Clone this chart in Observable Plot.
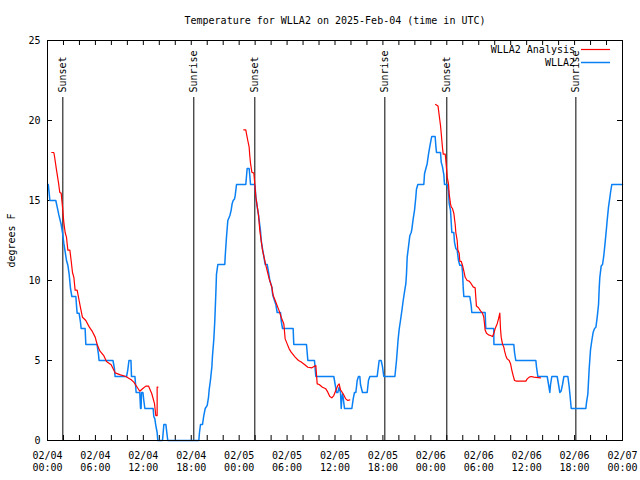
<!DOCTYPE html>
<html>
<head>
<meta charset="utf-8">
<script src="https://cdn.jsdelivr.net/npm/d3@7"></script>
<script src="https://cdn.jsdelivr.net/npm/@observablehq/plot@0.6"></script>
<style>
  html, body { margin: 0; padding: 0; background: white; }
</style>
</head>
<body>
<div id="chart"></div>
<script>
// ---- Data (hours since 2025-02-04 00:00 UTC, temperature in °F) ----
const titleText = "Temperature for WLLA2 on 2025-Feb-04 (time in UTC)";
const yLabel = "degrees F";

const wlla2 = [
  [0.1,16],[0.3,15],[1.04,15],[1.21,14.6],[1.42,14.1],[1.71,13.5],[1.88,13],[2.05,12.3],[2.21,11.8],[2.38,11.25],
  [2.55,10.95],[2.71,10.4],[2.88,9.5],[3.05,9],[3.55,9],[3.63,8.45],[3.71,7.95],[3.96,7.95],[4.13,7.4],[4.21,7],
  [4.71,7],[4.8,6],[6.2,6],[6.38,5.4],[6.46,5],[8.2,5],[8.38,4.5],[8.46,4],[9.9,4],[10.05,4.4],[10.2,5],[10.45,5],
  [10.52,4],[10.95,4],[11.1,3],[11.55,3],[11.65,2],[11.72,2],[11.77,3],[11.95,3],[12.06,2.5],[12.19,2],[13.23,2],
  [13.31,1.5],[13.44,1.35],[13.56,0.95],[13.73,0.5],[13.81,0],[14.4,0],[14.57,1],[14.82,1],[15.06,0],[18.95,0],
  [19.03,0.5],[19.16,1],[19.41,1],[19.57,1.55],[19.75,2],[20.0,2.2],[20.16,2.7],[20.25,3.2],[20.4,3.75],[20.58,4.6],
  [20.66,5.3],[20.83,6.35],[20.95,7.5],[21.08,9.2],[21.16,10.4],[21.33,11],[22.2,11],[22.25,11.5],[22.41,12.7],
  [22.58,13.75],[22.75,13.95],[22.83,14.05],[23.0,14.4],[23.12,14.8],[23.25,15],[23.42,15.1],[23.5,15.3],[23.67,16],
  [24.83,16],[25.0,17],[25.25,17],[25.33,16.56],[25.42,16],[25.92,16],[26.0,15.83],[26.09,15.2],[26.26,14.6],
  [26.42,14.1],[26.67,13.1],[26.76,12.5],[26.92,12],[27.09,11.5],[27.26,11],[27.51,11],[27.68,10.5],[27.84,10],
  [28.09,9.6],[28.17,9.2],[28.26,9],[28.59,8.5],[28.76,8],[29.18,8],[29.26,7.5],[29.43,7],[30.76,7],[30.84,6],
  [32.43,6],[32.6,5],[33.43,5],[33.6,4],[35.85,4],[36.02,3.5],[36.19,3],[36.35,3],[36.52,3.33],[36.69,3],[36.78,2],
  [36.85,2.6],[36.94,2.9],[37.02,2.7],[37.19,2],[38.11,2],[38.28,2.6],[38.44,3],[38.61,3],[38.78,3.75],[38.94,4],
  [39.11,4],[39.19,3.5],[39.44,3],[40.03,3],[40.19,3.75],[40.36,4],[41.28,4],[41.53,5],[41.78,5],[41.95,4.6],
  [42.11,4],[43.5,4],[43.7,5],[43.9,6.3],[44.05,7],[44.2,7.5],[44.37,8.1],[44.54,8.75],[44.7,9.27],[44.87,9.8],
  [44.95,10.4],[45.04,11.46],[45.2,12.1],[45.37,12.8],[45.54,13],[45.62,13.2],[45.79,13.85],[45.96,14.4],[46.12,15.2],
  [46.2,15.7],[46.37,16],[47.12,16],[47.21,16.67],[47.38,17],[47.54,17.3],[47.71,17.9],[47.88,18.4],[48.05,18.85],
  [48.12,19],[48.54,19],[48.63,18.4],[48.71,18],[49.21,18],[49.3,17.4],[49.46,17.1],[49.63,16.6],[49.71,16],[50.05,16],
  [50.21,15.6],[50.3,14.8],[50.46,14.4],[50.63,13],[50.88,13],[50.96,12.4],[51.13,12],[51.3,11.9],[51.46,11.25],
  [51.63,10.95],[51.88,10.95],[51.97,10.5],[52.05,9.6],[52.13,9],[52.88,9],[53.05,8.45],[53.13,8],[54.8,8],[54.88,7],
  [55.88,7],[55.9,6],[58.39,6],[58.48,5.5],[58.64,5],[61.15,5],[61.23,4.6],[61.4,4],[62.57,4],[62.74,3.5],[62.9,3],
  [62.99,3.5],[63.15,4],[63.82,4],[63.99,3.5],[64.15,3],[64.32,3.1],[64.49,3.5],[64.66,4],[65.16,4],[65.33,3.33],
  [65.49,2.5],[65.58,2],[67.41,2],[67.5,2.4],[67.66,2.9],[67.83,4.5],[68.0,5.7],[68.16,6.25],[68.33,6.77],[68.5,7],
  [68.67,7.08],[68.83,7.7],[69.0,8.5],[69.08,9.5],[69.16,10.2],[69.33,10.9],[69.5,11],[69.66,11.56],[69.83,12.4],
  [70.0,13.3],[70.08,13.75],[70.25,14.6],[70.42,15.2],[70.5,15.5],[70.66,16],[72.0,16]
];

const analysisDay1 = [
  [0.54,18],[0.79,18],[0.88,17.75],[1.13,16.9],[1.38,16.1],[1.54,15.5],[1.71,15.46],[1.88,14.6],[2.04,13.65],
  [2.21,13],[2.38,12.7],[2.46,12.3],[2.55,11.9],[2.8,11.9],[2.96,11.25],[3.13,10.5],[3.3,10.2],[3.46,9.4],[3.71,9.4],
  [3.96,8.75],[4.13,8.3],[4.38,7.7],[4.8,7.5],[5.22,7.1],[5.63,6.8],[5.97,6.46],[6.22,6],[6.55,5.6],[7.05,5.3],
  [7.39,4.94],[7.97,4.73],[8.3,4.4],[8.47,4.23],[9.14,4.1],[9.81,4],[10.48,3.8],[10.81,3.65],[11.23,3.33],
  [11.56,3.08],[11.9,3.23],[12.31,3.4],[12.65,3.4],[13.06,2.92],[13.4,2.3],[13.56,1.56],[13.73,1.56],[13.73,3.33],
  [13.82,3.33]
];
const analysisDay2 = [
  [24.58,19.42],[24.83,19.42],[24.92,19.17],[25.08,18.75],[25.25,18.33],[25.33,17.8],[25.42,17.33],[25.59,16.77],
  [25.84,16.71],[25.92,16.25],[26.09,15.21],[26.42,14.1],[26.59,13.1],[26.92,11.9],[27.34,10.94],[27.76,10.1],
  [28.09,9.58],[28.26,9.06],[28.51,8.75],[29.01,8.1],[29.26,7.7],[29.59,7.3],[29.76,6.35],[30.01,6.04],[30.26,5.73],
  [30.51,5.52],[31.01,5.21],[31.43,5.0],[31.77,4.9],[32.18,4.75],[32.6,4.58],[33.1,4.54],[33.6,4.69],[33.77,3.54],
  [34.02,3.5],[34.43,3.33],[34.85,3.23],[35.1,3.02],[35.35,2.75],[35.6,2.67],[35.85,2.81],[36.1,3.13],[36.35,3.44],
  [36.52,3.54],[36.69,3.17],[37.02,2.92],[37.35,2.6],[37.6,2.5],[37.85,2.54]
];
const analysisDay3 = [
  [48.6,21],[48.9,20.9],[49.13,20],[49.21,19.7],[49.3,19.2],[49.46,18.3],[49.55,17.9],[49.8,17.9],[49.88,17.5],
  [50.05,16.46],[50.21,16.04],[50.3,15.4],[50.46,14.8],[50.55,14.6],[50.71,14.5],[50.88,14.2],[51.05,13.5],
  [51.13,13],[51.3,12.5],[51.38,11.9],[51.55,11.7],[51.63,11.2],[51.8,11.2],[51.97,10.94],[52.13,10.6],[52.3,10.2],
  [52.55,10.0],[52.8,9.96],[53.05,9.8],[53.3,9.6],[53.55,9.54],[53.63,8.96],[53.71,8.4],[53.97,8.3],[54.22,8.1],
  [54.47,7.96],[54.63,7.7],[54.72,7.3],[54.8,6.9],[54.97,6.7],[55.22,6.6],[55.47,6.56],[55.72,6.5],[55.89,6.7],
  [56.06,7.0],[56.31,7.3],[56.47,7.6],[56.64,7.96],[56.72,7.0],[56.81,6.46],[56.97,6.04],[57.14,5.83],[57.23,5.6],
  [57.39,5.3],[57.56,5.1],[57.81,5.0],[57.98,4.8],[58.14,4.4],[58.31,4.06],[58.48,3.75],[58.73,3.71],[59.9,3.71],
  [60.07,3.85],[60.32,3.96],[60.57,4.0],[60.9,3.96],[61.73,3.92]
];

const sunHours  = [1.92, 18.32, 25.96, 42.24, 50.0, 66.16];
const sunLabels = ["Sunset", "Sunrise", "Sunset", "Sunrise", "Sunset", "Sunrise"];

const yTicks = [0, 5, 10, 15, 20, 25];
const xLabelHours = [0, 6, 12, 18, 24, 30, 36, 42, 48, 54, 60, 66, 72];
const xLabels = [
  "02/04\n00:00", "02/04\n06:00", "02/04\n12:00", "02/04\n18:00",
  "02/05\n00:00", "02/05\n06:00", "02/05\n12:00", "02/05\n18:00",
  "02/06\n00:00", "02/06\n06:00", "02/06\n12:00", "02/06\n18:00",
  "02/07\n00:00"
];
const xMinorHours = d3.range(0, 73, 2);

const seriesNames = ["WLLA2 Analysis", "WLLA2"];
const seriesColors = ["#ff0000", "#0a80f5"];

// ---- helpers ----
const base = Date.UTC(2025, 1, 4);
const toDate = h => new Date(base + h * 3600e3);
const analysisRows = [];
for (const seg of [analysisDay1, analysisDay2, analysisDay3]) {
  for (const [h, t] of seg) analysisRows.push({h, t});
  analysisRows.push({h: seg[seg.length - 1][0], t: null});
}
const obsRows = wlla2.map(([h, t]) => ({h, t}));

const W = 640, H = 480, mL = 47, mR = 18, mT = 40, mB = 40;
const innerW = W - mL - mR, innerH = H - mT - mB;
const tickLen = 5;

function legend(index, scales, values, dimensions) {
  const g = d3.create("svg:g")
    .attr("font-family", "'DejaVu Sans Mono', monospace")
    .attr("font-size", 10);
  const right = dimensions.width - dimensions.marginRight;
  const top = dimensions.marginTop;
  seriesNames.forEach((name, i) => {
    const y = top + 9.5 + i * 13;
    g.append("text")
      .attr("x", right - 47).attr("y", y)
      .attr("text-anchor", "end").attr("dy", "0.35em")
      .attr("fill", "black").text(name);
    g.append("line")
      .attr("x1", right - 41).attr("x2", right - 12)
      .attr("y1", y).attr("y2", y)
      .attr("stroke", seriesColors[i]).attr("stroke-width", i === 0 ? 1.2 : 1.5);
  });
  return g.node();
}

const chart = Plot.plot({
  width: W, height: H,
  marginLeft: mL, marginRight: mR, marginTop: mT, marginBottom: mB,
  style: {fontFamily: "'DejaVu Sans Mono', monospace", fontSize: "10px", background: "white", color: "black"},
  x: {type: "utc", domain: [toDate(0), toDate(72)], axis: null},
  y: {domain: [0, 25], axis: null},
  marks: [
    // sunrise/sunset lines & labels
    Plot.ruleX(sunHours, {x: toDate, insetTop: 57, stroke: "black", strokeWidth: 1}),
    Plot.text(sunLabels, {x: (d, i) => toDate(sunHours[i]), frameAnchor: "top", dy: 52,
      rotate: -90, textAnchor: "start", lineAnchor: "middle", fill: "black"}),
    // ticks (inside, mirrored)
    Plot.tickY(yTicks, {y: d => d, insetRight: innerW - tickLen, stroke: "black"}),
    Plot.tickY(yTicks, {y: d => d, insetLeft: innerW - tickLen, stroke: "black"}),
    Plot.tickX(xMinorHours, {x: toDate, insetTop: innerH - tickLen, stroke: "black"}),
    Plot.tickX(xMinorHours, {x: toDate, insetBottom: innerH - tickLen, stroke: "black"}),
    // data
    Plot.line(obsRows, {x: d => toDate(d.h), y: "t", stroke: seriesColors[1], strokeWidth: 1.5}),
    Plot.line(analysisRows, {x: d => toDate(d.h), y: "t", stroke: seriesColors[0], strokeWidth: 1.2}),
    Plot.frame({stroke: "black", strokeWidth: 1}),
    // axes
    Plot.axisY({ticks: yTicks, tickSize: 0, tickPadding: 7, label: yLabel, labelAnchor: "center",
      labelArrow: "none", labelOffset: 40, fill: "black"}),
    Plot.text(xLabelHours, {x: toDate, text: (d, i) => xLabels[i], frameAnchor: "bottom",
      dy: 10, lineAnchor: "top", lineHeight: 1.2, fill: "black"}),
    // title
    Plot.text([titleText], {frameAnchor: "top", dy: -20, lineAnchor: "middle", fill: "black"}),
    legend
  ]
});
document.getElementById("chart").appendChild(chart);
</script>
</body>
</html>
